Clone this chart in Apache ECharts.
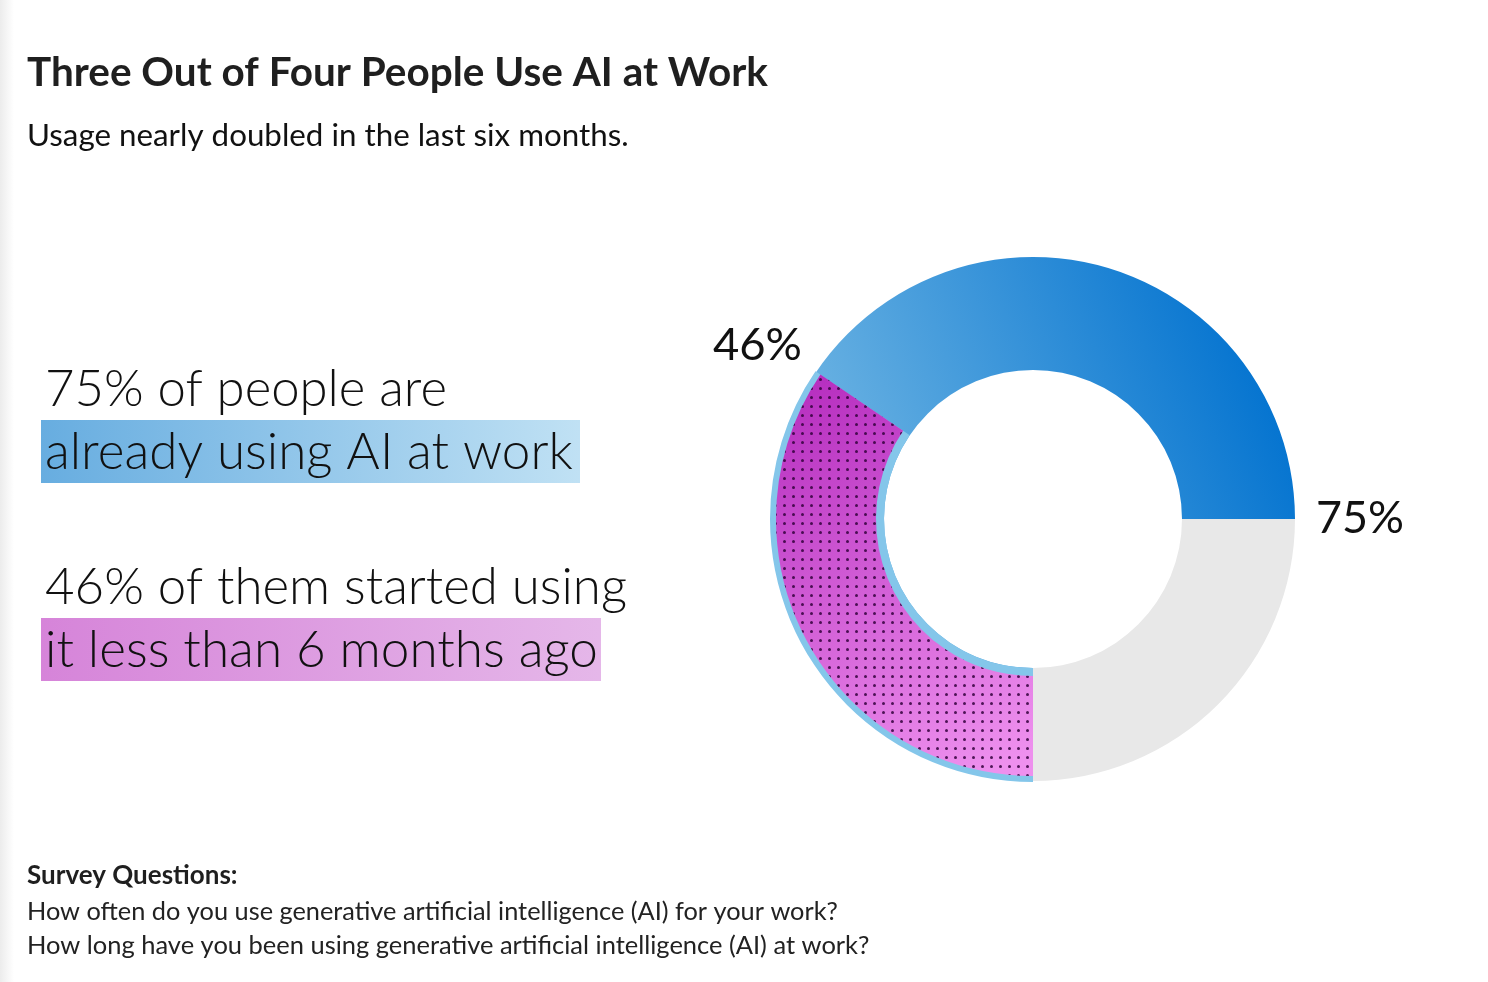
<!DOCTYPE html>
<html><head><meta charset="utf-8">
<script src="https://cdn.jsdelivr.net/npm/echarts@6/dist/echarts.min.js"></script>
<style>html,body{margin:0;padding:0;background:#fff}#c{width:1488px;height:982px}</style>
</head><body><div id="c"></div>
<script>
// ---- data ----
const categories = ['Use AI at work', 'Do not use AI at work'];
const usageShare = [75, 25];                 // % of people
const recentCategories = ['Started < 6 months ago', 'Other users / non-users'];
const recentShareOfUsers = 46;               // % of AI users who started < 6 months ago
const titleText = 'Three Out of Four People Use AI at Work';
const subtitleText = 'Usage nearly doubled in the last six months.';
const statLines = ['75% of people are', 'already using AI at work', '46% of them started using', 'it less than 6 months ago'];
const footerLines = ['Survey Questions:', 'How often do you use generative artificial intelligence (AI) for your work?', 'How long have you been using generative artificial intelligence (AI) at work?'];

const recentShare = usageShare[0] * recentShareOfUsers / 100; // share of all people
const recentData = [recentShare, 100 - recentShare];

const FONT = 'Lato, "Open Sans", "Noto Sans", sans-serif';
const cv = document.createElement('canvas').getContext('2d');
function fit(text, weight, target, maxSize) {
  cv.font = weight + ' 100px ' + FONT;
  const w = cv.measureText(text).width;
  return Math.min(maxSize, 100 * target / w);
}

const chart = echarts.init(document.getElementById('c'), null, {renderer: 'canvas'});
const C = [1033, 519];

function txt(x, y, text, size, weight, color) {
  return {type: 'text', x: x, y: y, silent: true,
    style: {text: text, fontFamily: FONT, fontSize: size, fontWeight: weight, fill: color || '#111', verticalAlign: 'middle', align: 'left'}};
}

const graphics = [
  {type: 'rect', shape: {x: 0, y: 0, width: 14, height: 982}, silent: true,
   style: {fill: new echarts.graphic.LinearGradient(0, 0, 1, 0, [{offset: 0, color: '#ececec'}, {offset: 1, color: '#ffffff'}])}},
  txt(27, 73, titleText, fit(titleText, 'bold', 741, 44), 'bold', '#1f1f1f'),
  txt(27, 136, subtitleText, fit(subtitleText, 'normal', 602, 34), 'normal', '#111'),
  {type: 'rect', shape: {x: 41, y: 420, width: 539, height: 63}, silent: true,
   style: {fill: new echarts.graphic.LinearGradient(0, 0, 1, 0, [{offset: 0, color: '#67ade0'}, {offset: 1, color: '#c0e1f4'}])}},
  {type: 'rect', shape: {x: 41, y: 618, width: 560, height: 63}, silent: true,
   style: {fill: new echarts.graphic.LinearGradient(0, 0, 1, 0, [{offset: 0, color: '#d684d9'}, {offset: 1, color: '#e5b7e9'}])}},
  txt(45, 390, statLines[0], fit(statLines[0], 300, 402, 58), 300, '#111'),
  txt(45, 452, statLines[1], fit(statLines[1], 300, 528, 58), 300, '#111'),
  txt(45, 588, statLines[2], fit(statLines[2], 300, 582, 58), 300, '#111'),
  txt(45, 650, statLines[3], fit(statLines[3], 300, 553, 58), 300, '#111'),
  txt(713, 345, recentShareOfUsers + '%', fit(recentShareOfUsers + '%', 'normal', 89, 50), 'normal', '#111'),
  txt(1316, 519, usageShare[0] + '%', fit(usageShare[0] + '%', 'normal', 88, 50), 'normal', '#111'),
  txt(27, 876, footerLines[0], fit(footerLines[0], 'bold', 212, 26), 'bold', '#1f1f1f'),
  txt(27, 912, footerLines[1], fit(footerLines[1], 'normal', 811, 26), 'normal', '#222'),
  txt(27, 946, footerLines[2], fit(footerLines[2], 'normal', 843, 26), 'normal', '#222')
];

const blueGrad = new echarts.graphic.LinearGradient(0, 0.55, 0.95, 0.15, [
  {offset: 0, color: '#7fbfe6'}, {offset: 1, color: '#0071cf'}]);
const magGrad = new echarts.graphic.LinearGradient(0, 0, 0.8, 1, [
  {offset: 0, color: '#b42abd'}, {offset: 1, color: '#ee90ee'}]);

const common = {type: 'pie', center: C, silent: true, animation: false,
  label: {show: false}, labelLine: {show: false}, emphasis: {disabled: true}, avoidLabelOverlap: false};

chart.setOption({
  animation: false,
  graphic: graphics,
  series: [
    Object.assign({}, common, {
      radius: [149, 262], startAngle: 0, clockwise: false,
      data: [
        {name: categories[0], value: usageShare[0], itemStyle: {color: blueGrad}},
        {name: categories[1], value: usageShare[1], itemStyle: {color: '#e8e8e8'}}
      ]
    }),
    Object.assign({}, common, {
      radius: [149, 263], startAngle: 270, clockwise: true,
      data: [
        {name: recentCategories[0], value: recentData[0], itemStyle: {color: '#84c6ea'}},
        {name: recentCategories[1], value: recentData[1], itemStyle: {color: 'rgba(0,0,0,0)'}}
      ]
    }),
    Object.assign({}, common, {
      radius: [157, 257], startAngle: 270, clockwise: true,
      data: [
        {name: recentCategories[0], value: recentData[0], itemStyle: {color: magGrad,
          decal: {symbol: 'circle', symbolSize: 1, color: 'rgba(50,0,60,0.85)', dashArrayX: [2.4, 5.2], dashArrayY: [2.4, 5.2]}}},
        {name: recentCategories[1], value: recentData[1], itemStyle: {color: 'rgba(0,0,0,0)'}}
      ]
    })
  ]
});
</script></body></html>
